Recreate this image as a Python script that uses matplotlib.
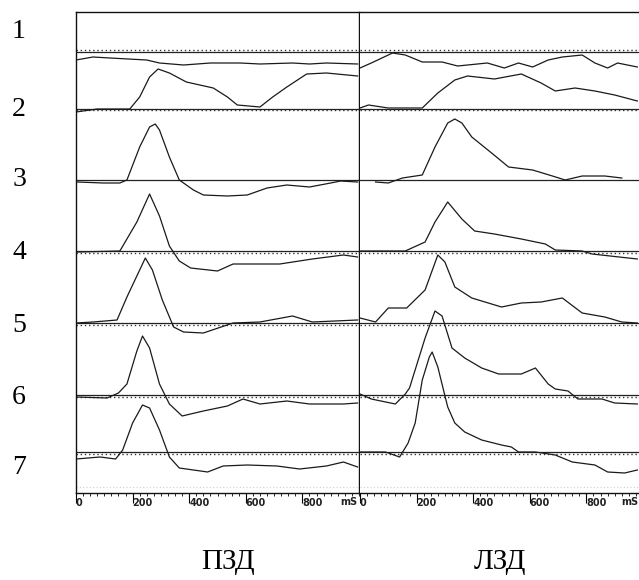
import matplotlib.pyplot as plt
import numpy as np

# time (ms) and amplitude of each trace, ПЗД side (left)
pzd1_t = [0, 60, 120, 250, 295, 380, 475, 580, 650, 765, 825, 885, 995]
pzd1_a = [-8, -5, -6, -8, -11, -13, -11, -11, -12, -11, -12, -11, -12]
pzd2_t = [0, 75, 190, 225, 260, 290, 330, 390, 485, 535, 570, 650, 695, 745, 815, 885, 995]
pzd2_a = [-3, 0, 0, 12, 32, 40, 36, 27, 21, 12, 4, 2, 12, 22, 35, 36, 33]
pzd3_t = [5, 95, 155, 180, 225, 260, 280, 295, 330, 365, 415, 450, 535, 605, 675, 745, 825, 900, 935, 995]
pzd3_a = [-2, -3, -3, 0, 33, 53, 56, 50, 23, 0, -10, -15, -16, -15, -8, -5, -7, -3, -1, -2]
pzd4_t = [5, 155, 215, 260, 295, 330, 365, 405, 500, 555, 650, 720, 835, 945, 995]
pzd4_a = [-1, 0, 29, 57, 35, 5, -10, -17, -20, -13, -13, -13, -8, -4, -6]
pzd5_t = [0, 60, 145, 180, 245, 270, 305, 345, 380, 450, 555, 650, 765, 835, 995]
pzd5_a = [0, 1, 3, 26, 65, 53, 23, -4, -9, -10, 0, 1, 7, 1, 3]
pzd6_t = [0, 110, 150, 180, 215, 235, 260, 295, 330, 375, 450, 535, 590, 650, 745, 825, 945, 995]
pzd6_a = [-2, -3, 2, 11, 44, 59, 47, 11, -9, -21, -16, -11, -4, -9, -6, -9, -9, -8]
pzd7_t = [0, 85, 140, 165, 200, 235, 260, 295, 330, 365, 465, 520, 605, 710, 790, 885, 945, 995]
pzd7_a = [-7, -5, -7, 2, 29, 47, 44, 22, -5, -16, -20, -14, -13, -14, -17, -14, -10, -15]

# ЛЗД side (right)
lzd1_t = [0, 40, 115, 160, 220, 290, 345, 450, 510, 560, 610, 665, 715, 785, 830, 875, 910, 980]
lzd1_a = [-16, -11, -1, -3, -10, -10, -14, -11, -16, -11, -15, -8, -5, -3, -11, -16, -11, -15]
lzd2_t = [0, 30, 100, 220, 275, 335, 380, 475, 570, 640, 690, 760, 830, 900, 980]
lzd2_a = [1, 4, 1, 1, 16, 29, 33, 30, 35, 26, 18, 21, 18, 14, 8]
lzd3_t = [55, 100, 150, 220, 265, 310, 335, 360, 395, 465, 525, 610, 680, 725, 785, 865, 925]
lzd3_a = [-2, -3, 2, 5, 33, 57, 61, 57, 43, 27, 13, 10, 4, 0, 4, 4, 2]
lzd4_t = [0, 160, 230, 265, 310, 360, 405, 475, 570, 655, 690, 785, 820, 980]
lzd4_a = [0, 0, 9, 29, 49, 32, 20, 17, 12, 7, 1, 0, -3, -8]
lzd5_t = [0, 55, 100, 165, 230, 275, 300, 335, 395, 500, 570, 640, 715, 785, 865, 925, 980]
lzd5_a = [5, 1, 15, 15, 33, 68, 61, 36, 25, 16, 20, 21, 25, 10, 6, 1, 0]
lzd6_t = [0, 40, 125, 160, 175, 230, 265, 290, 325, 370, 430, 490, 570, 620, 665, 690, 735, 770, 855, 900, 980]
lzd6_a = [1, -4, -9, 1, 7, 57, 84, 79, 47, 37, 27, 21, 21, 27, 11, 6, 4, -4, -4, -8, -9]
lzd7_t = [0, 90, 140, 170, 195, 220, 245, 255, 275, 295, 310, 335, 370, 430, 500, 535, 560, 620, 690, 750, 830, 875, 935, 980]
lzd7_a = [0, 0, -5, 9, 29, 72, 95, 100, 85, 62, 45, 29, 20, 12, 7, 5, 0, 0, -3, -10, -13, -20, -21, -18]

channels = ['1', '2', '3', '4', '5', '6', '7']
sides = ['ПЗД', 'ЛЗД']
tick_vals = [0, 200, 400, 600, 800]

pzd = [(pzd1_t, pzd1_a), (pzd2_t, pzd2_a), (pzd3_t, pzd3_a), (pzd4_t, pzd4_a),
       (pzd5_t, pzd5_a), (pzd6_t, pzd6_a), (pzd7_t, pzd7_a)]
lzd = [(lzd1_t, lzd1_a), (lzd2_t, lzd2_a), (lzd3_t, lzd3_a), (lzd4_t, lzd4_a),
       (lzd5_t, lzd5_a), (lzd6_t, lzd6_a), (lzd7_t, lzd7_a)]

# vertical position of each channel's baseline (row units, top = 12, bottom = 493)
offsets = [52, 109, 180, 251, 323, 395, 452]
dots = [50, 110, None, 253, 325, 397, 454]

W, H = 639, 580
fig = plt.figure(figsize=(W / 100, H / 100), dpi=100)
ax1 = fig.add_axes([76 / W, 1 - 493 / H, 283 / W, 481 / H])
ax2 = fig.add_axes([360 / W, 1 - 493 / H, 283 / W, 481 / H])

for ax, traces, ms_x in [(ax1, pzd, 935), (ax2, lzd, 922)]:
    ax.set_xlim(0, 1000)
    ax.set_ylim(493, 12)
    for off, d in zip(offsets, dots):
        ax.axhline(off, color='#222222', lw=0.9)
        if d is not None:
            ax.axhline(d, color='#333333', lw=1.0, ls=(0, (1, 2)))
    ax.axhline(487, color='#d0d0d0', lw=0.8, ls=(0, (1, 2)))
    for (t, a), off in zip(traces, offsets):
        ax.plot(t, off - np.array(a), color='#1a1a1a', lw=0.9)
    ax.set_yticks([])
    ax.set_xticks(tick_vals)
    ax.set_xticklabels([str(v) for v in tick_vals], ha='left', fontsize=7,
                       fontweight='bold', color='#222222')
    ax.set_xticks(np.arange(0, 1001, 25), minor=True)
    ax.tick_params(axis='x', which='major', direction='out', length=7, width=0.8, pad=-3.5)
    ax.tick_params(axis='x', which='minor', direction='out', length=2.5, width=0.6)
    ax.text(ms_x, 497, 'mS', fontsize=7, fontweight='bold', color='#222222',
            va='top', ha='left', clip_on=False)
    for s in ax.spines.values():
        s.set_color('#111111')
        s.set_linewidth(1.0)

ax2.spines['left'].set_visible(False)

# channel numbers
label_y = [32, 110, 180, 253, 326, 397, 467]
for lab, y in zip(channels, label_y):
    fig.text(19 / W, 1 - y / H, lab, fontsize=20, family='Liberation Serif',
             ha='center', va='center')

fig.text(228 / W, 1 - 562 / H, sides[0], fontsize=21, family='Liberation Serif',
         ha='center', va='center')
fig.text(500 / W, 1 - 562 / H, sides[1], fontsize=21, family='Liberation Serif',
         ha='center', va='center')

fig.savefig('out.png', dpi=100)
